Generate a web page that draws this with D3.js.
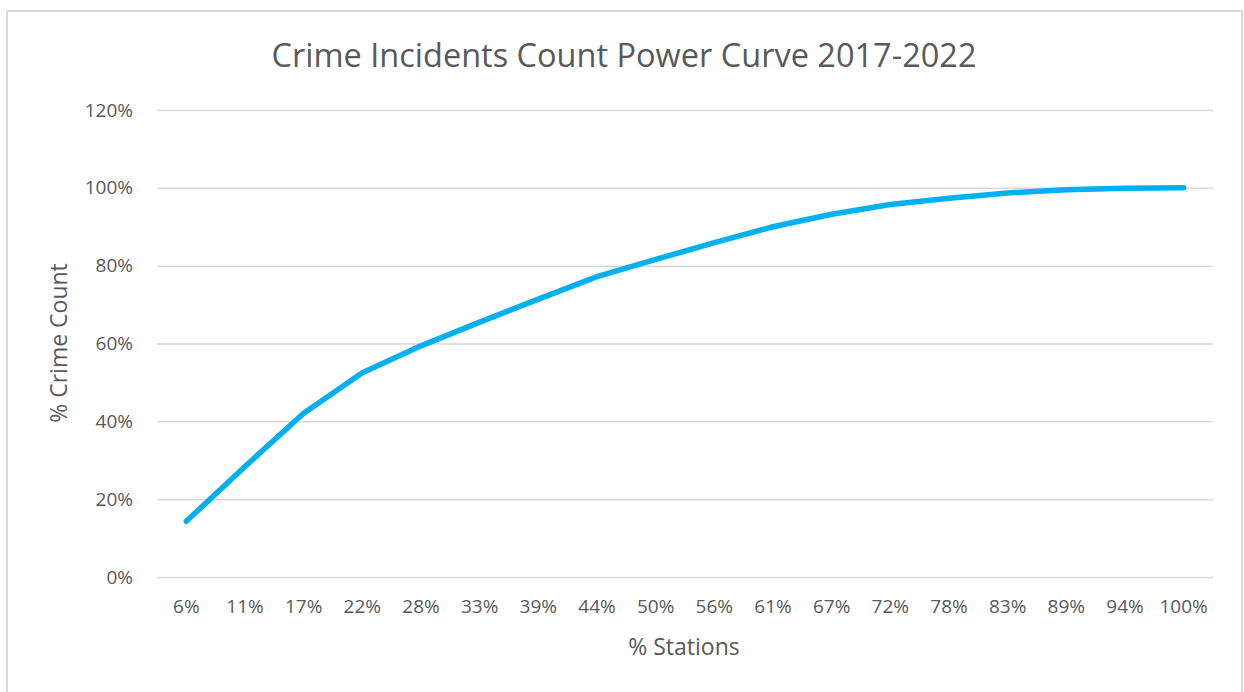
<!DOCTYPE html>
<html>
<head>
<meta charset="utf-8">
<script src="https://cdn.jsdelivr.net/npm/d3@7"></script>
<style>
  html, body { margin: 0; padding: 0; background: #fff; }
  svg { display: block; }
  text { font-family: "Open Sans", "Liberation Sans", sans-serif; fill: #595959; }
</style>
</head>
<body>
<svg id="chart" width="1244" height="692"></svg>
<script>
// Share of stations (cumulative) on the x axis
const stations = ["6%", "11%", "17%", "22%", "28%", "33%", "39%", "44%", "50%",
                  "56%", "61%", "67%", "72%", "78%", "83%", "89%", "94%", "100%"];
// Cumulative share of crime incidents, in percent
const crimeShare = [14.3, 28.4, 42.1, 52.5, 59.4, 65.5, 71.4, 77.2, 81.6,
                    85.9, 90.0, 93.2, 95.7, 97.3, 98.7, 99.5, 99.9, 100.0];
// Y axis tick values, in percent
const yTicks = [0, 20, 40, 60, 80, 100, 120];

const titleText = "Crime Incidents Count Power Curve 2017-2022";
const xTitle = "% Stations";
const yTitle = "% Crime Count";

const svg = d3.select("#chart");
const plot = { left: 157, right: 1213, top: 110, bottom: 577 };

// Chart frame
svg.append("rect")
  .attr("x", 7).attr("y", 11)
  .attr("width", 1235).attr("height", 700)
  .attr("fill", "#fff")
  .attr("stroke", "#d9d9d9").attr("stroke-width", 2);

const x = d3.scaleBand().domain(stations).range([plot.left, plot.right]);
const y = d3.scaleLinear().domain([0, 120]).range([plot.bottom, plot.top]);

// Horizontal gridlines + y labels
const yAxis = d3.axisLeft(y).tickValues(yTicks).tickFormat(d => d + "%")
  .tickSize(-(plot.right - plot.left)).tickPadding(24);
const gy = svg.append("g").attr("transform", `translate(${plot.left},0)`).call(yAxis);
gy.select(".domain").remove();
gy.selectAll(".tick line").attr("stroke", "#d9d9d9").attr("stroke-width", 1.5);
gy.selectAll(".tick text")
  .attr("font-size", 19).attr("fill", "#595959")
  .style("font-family", '"Open Sans", sans-serif');

// X category labels
const xAxis = d3.axisBottom(x).tickSize(0).tickPadding(23);
const gx = svg.append("g").attr("transform", `translate(0,${plot.bottom})`).call(xAxis);
gx.select(".domain").remove();
gx.selectAll(".tick text")
  .attr("font-size", 19).attr("fill", "#595959")
  .style("font-family", '"Open Sans", sans-serif');

// Cumulative curve
const line = d3.line()
  .x((d, i) => x(stations[i]) + x.bandwidth() / 2)
  .y(d => y(d));
svg.append("path")
  .datum(crimeShare)
  .attr("d", line)
  .attr("fill", "none")
  .attr("stroke", "#00b0f0")
  .attr("stroke-width", 5.5)
  .attr("stroke-linecap", "round")
  .attr("stroke-linejoin", "round");

// Titles
svg.append("text")
  .attr("x", 624).attr("y", 67)
  .attr("text-anchor", "middle")
  .attr("font-size", 32.5)
  .text(titleText);

svg.append("text")
  .attr("x", 684).attr("y", 655)
  .attr("text-anchor", "middle")
  .attr("font-size", 23)
  .text(xTitle);

svg.append("text")
  .attr("transform", "translate(67,343) rotate(-90)")
  .attr("text-anchor", "middle")
  .attr("font-size", 23)
  .text(yTitle);
</script>
</body>
</html>
